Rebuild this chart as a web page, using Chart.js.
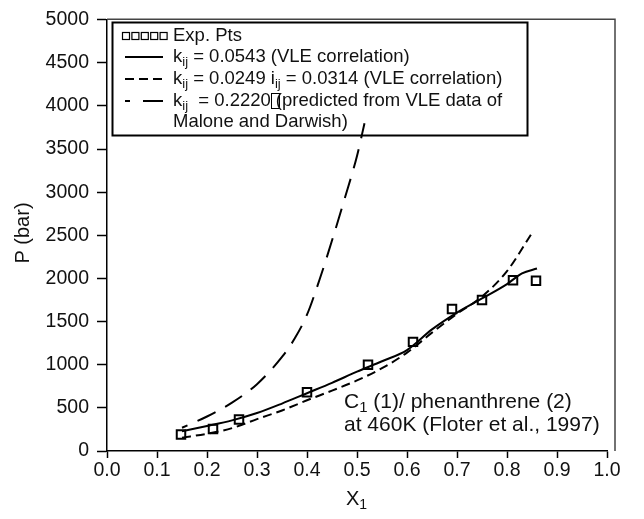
<!DOCTYPE html>
<html>
<head>
<meta charset="utf-8">
<script src="https://cdn.jsdelivr.net/npm/chart.js@4/dist/chart.umd.min.js"></script>
<style>
  html, body { margin: 0; padding: 0; background: #fff; }
</style>
</head>
<body>
<canvas id="chart" width="644" height="519"></canvas>
<script>
// experimental points, C1 / phenanthrene at 460 K
const expX = [0.148, 0.212, 0.264, 0.400, 0.522, 0.612, 0.690, 0.750, 0.812, 0.858];
const expP = [190, 255, 365, 680, 1000, 1265, 1645, 1750, 1980, 1975];

// kij = 0.0543
const solidX = [0.15, 0.2, 0.25, 0.3, 0.35, 0.4, 0.45, 0.5, 0.55, 0.6, 0.65, 0.7, 0.75, 0.8, 0.83, 0.86];
const solidP = [230, 290, 355, 440, 550, 670, 790, 920, 1040, 1170, 1410, 1605, 1768, 1935, 2060, 2115];

// kij = 0.0249, iij = 0.0314
const dashX = [0.15, 0.2, 0.25, 0.3, 0.35, 0.4, 0.45, 0.5, 0.55, 0.6, 0.65, 0.7, 0.75, 0.8, 0.852];
const dashP = [155, 200, 265, 370, 470, 588, 700, 818, 960, 1140, 1372, 1590, 1790, 2085, 2546];

// kij = 0.2220 (predicted)
const longX = [0.15, 0.2, 0.25, 0.3, 0.35, 0.375, 0.4, 0.425, 0.45, 0.475, 0.5, 0.515];
const longP = [270, 400, 560, 775, 1090, 1300, 1580, 1985, 2440, 2920, 3420, 3800];

const xTicks = [0, 0.1, 0.2, 0.3, 0.4, 0.5, 0.6, 0.7, 0.8, 0.9, 1.0];
const yTicks = [0, 500, 1000, 1500, 2000, 2500, 3000, 3500, 4000, 4500, 5000];

const FONT = '"Liberation Sans", Arial, Helvetica, sans-serif';
const INK = "#111";

function pts(xs, ys) {
  return xs.map((x, i) => ({ x: x, y: ys[i] }));
}

// draw text made of normal and subscript pieces, returns end x
function drawRich(ctx, x, y, parts, size) {
  parts.forEach((p) => {
    if (p.sub) {
      ctx.font = Math.round(size * 0.7) + "px " + FONT;
      ctx.fillText(p.t, x, y + size * 0.3);
    } else {
      ctx.font = size + "px " + FONT;
      ctx.fillText(p.t, x, y);
    }
    x += ctx.measureText(p.t).width;
  });
  return x;
}

const decor = {
  id: "decor",
  beforeDatasetsDraw(chart) {
    const ctx = chart.ctx;
    const a = chart.chartArea;
    ctx.save();
    // frame (right edge sits a bit past 1.0)
    ctx.strokeStyle = "#444";
    ctx.lineWidth = 1.5;
    ctx.beginPath();
    ctx.moveTo(a.left, a.top - 0.5);
    ctx.lineTo(615, a.top - 0.5);
    ctx.lineTo(615, a.bottom);
    ctx.stroke();

    // legend box
    const bx = 112.5, by = 22.5, bw = 415, bh = 113;
    ctx.fillStyle = "#fff";
    ctx.fillRect(bx, by, bw, bh);
    ctx.strokeStyle = "#000";
    ctx.lineWidth = 2;
    ctx.strokeRect(bx, by, bw, bh);

    ctx.fillStyle = INK;
    ctx.strokeStyle = "#000";
    ctx.textBaseline = "middle";
    ctx.textAlign = "left";
    const size = 18.5;
    const tx = 173;
    const rows = [36, 57, 79, 101, 122];

    // row 1: squares
    ctx.lineWidth = 1.2;
    for (let i = 0; i < 5; i++) {
      ctx.strokeRect(122.5 + i * 9.4, rows[0] - 3.5, 7, 7);
    }
    drawRich(ctx, tx, rows[0], [{ t: "Exp. Pts" }], size);

    // row 2: solid
    ctx.lineWidth = 2;
    ctx.setLineDash([]);
    ctx.beginPath(); ctx.moveTo(125, rows[1]); ctx.lineTo(163, rows[1]); ctx.stroke();
    drawRich(ctx, tx, rows[1], [{ t: "k" }, { t: "ij", sub: true }, { t: " = 0.0543 (VLE correlation)" }], size);

    // row 3: short dashes
    ctx.setLineDash([9, 5]);
    ctx.beginPath(); ctx.moveTo(125, rows[2]); ctx.lineTo(166, rows[2]); ctx.stroke();
    ctx.setLineDash([]);
    drawRich(ctx, tx, rows[2], [{ t: "k" }, { t: "ij", sub: true }, { t: " = 0.0249 " }, { t: "i" }, { t: "ij", sub: true }, { t: " = 0.0314 (VLE correlation)" }], size);

    // row 4: long dash
    ctx.beginPath(); ctx.moveTo(125, rows[3]); ctx.lineTo(130, rows[3]); ctx.stroke();
    ctx.beginPath(); ctx.moveTo(143, rows[3]); ctx.lineTo(163, rows[3]); ctx.stroke();
    let ex = drawRich(ctx, tx, rows[3], [{ t: "k" }, { t: "ij", sub: true }, { t: "  = 0.2220" }], size);
    ctx.lineWidth = 1;
    ctx.strokeRect(Math.round(ex) + 0.5, rows[3] - 7.5, 8, 15);
    drawRich(ctx, ex + 5, rows[3], [{ t: "(predicted from VLE data of" }], size);
    drawRich(ctx, tx, rows[4], [{ t: "Malone and Darwish)" }], size);

    // annotation
    drawRich(ctx, 344, 402, [{ t: "C" }, { t: "1", sub: true }, { t: " (1)/ phenanthrene (2)" }], 21);
    drawRich(ctx, 344, 425, [{ t: "at 460K (Floter et al., 1997)" }], 21);

    // axis titles
    ctx.save();
    ctx.translate(23, 233);
    ctx.rotate(-Math.PI / 2);
    ctx.textAlign = "center";
    ctx.font = "20px " + FONT;
    ctx.fillText("P (bar)", 0, 0);
    ctx.restore();
    ctx.textAlign = "left";
    drawRich(ctx, 346, 499, [{ t: "X" }, { t: "1", sub: true }], 20);
    ctx.restore();
  }
};

const ctx = document.getElementById("chart").getContext("2d");
new Chart(ctx, {
  type: "scatter",
  data: {
    datasets: [
      {
        label: "Exp. Pts",
        data: pts(expX, expP),
        showLine: false,
        pointStyle: "rect",
        pointRadius: 6,
        borderColor: "#000",
        borderWidth: 2,
        backgroundColor: "rgba(0,0,0,0)",
        order: 0
      },
      {
        label: "kij = 0.0543",
        data: pts(solidX, solidP),
        showLine: true,
        pointRadius: 0,
        borderColor: "#000",
        borderWidth: 2,
        cubicInterpolationMode: "monotone",
        order: 1
      },
      {
        label: "kij = 0.0249 iij = 0.0314",
        data: pts(dashX, dashP),
        showLine: true,
        pointRadius: 0,
        borderColor: "#000",
        borderWidth: 2,
        borderDash: [9, 5],
        cubicInterpolationMode: "monotone",
        order: 2
      },
      {
        label: "kij = 0.2220",
        data: pts(longX, longP),
        showLine: true,
        pointRadius: 0,
        borderColor: "#000",
        borderWidth: 2,
        borderDash: [20, 11],
        borderDashOffset: 14,
        cubicInterpolationMode: "monotone",
        order: 3
      }
    ]
  },
  options: {
    responsive: false,
    animation: false,
    devicePixelRatio: 1,
    layout: { padding: { top: 17, right: 37, left: 0, bottom: 0 } },
    plugins: { legend: { display: false }, tooltip: { enabled: false } },
    scales: {
      x: {
        type: "linear",
        min: 0,
        max: 1,
        afterFit: (s) => { s.height = 68; },
        afterBuildTicks: (s) => { s.ticks = xTicks.map((v) => ({ value: v })); },
        ticks: {
          autoSkip: false,
          maxRotation: 0,
          padding: 1,
          color: INK,
          font: { family: FONT, size: 19.5 },
          callback: (v) => Number(v).toFixed(1)
        },
        grid: { drawOnChartArea: false, tickLength: 7, tickColor: "#000", tickWidth: 1.5 },
        border: { display: true, color: "#000", width: 1.5 }
      },
      y: {
        type: "linear",
        min: 0,
        max: 5000,
        afterFit: (s) => { s.width = 107; },
        afterBuildTicks: (s) => { s.ticks = yTicks.map((v) => ({ value: v })); },
        ticks: {
          autoSkip: false,
          padding: 8,
          color: INK,
          font: { family: FONT, size: 19.5 },
          callback: (v) => String(v)
        },
        grid: { drawOnChartArea: false, tickLength: 10, tickColor: "#000", tickWidth: 1.5 },
        border: { display: true, color: "#000", width: 1.5 }
      }
    }
  },
  plugins: [decor]
});
</script>
</body>
</html>
